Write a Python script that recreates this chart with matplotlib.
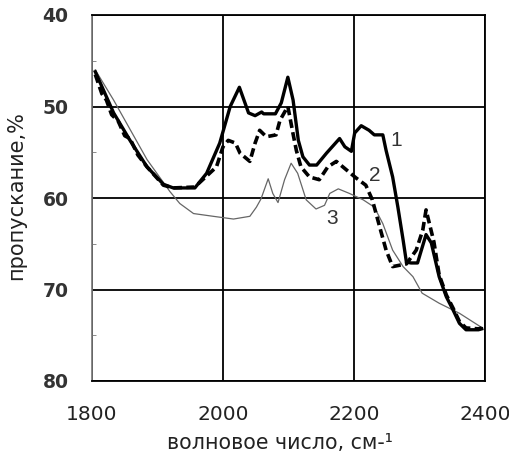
import matplotlib
matplotlib.use("Agg")
import matplotlib.pyplot as plt
from matplotlib.ticker import MultipleLocator

plt.rcParams['font.family'] = ['DejaVu Sans']

# Transmission spectra (wavenumber, cm^-1 -> transmission, %)
wn1 = [1805, 1833, 1858, 1884, 1909, 1924, 1957, 1975, 1995, 2011, 2025, 2039, 2049,
       2059, 2062, 2080, 2089, 2099, 2107, 2115, 2122, 2132, 2143, 2158, 2178, 2186,
       2196, 2201, 2211, 2223, 2231, 2244, 2249, 2259, 2267, 2275, 2280, 2287, 2297,
       2302, 2310, 2318, 2330, 2341, 2351, 2361, 2371, 2390, 2395]
t1 = [46.2, 50.7, 53.7, 56.6, 58.5, 58.9, 58.9, 57.3, 54.0, 50.0, 47.9, 50.7, 51.0,
      50.6, 50.8, 50.8, 49.6, 46.8, 49.3, 53.7, 55.5, 56.4, 56.4, 55.1, 53.5, 54.4,
      54.9, 52.9, 52.1, 52.6, 53.1, 53.1, 54.8, 57.7, 61.0, 64.6, 67.0, 67.1, 67.1,
      65.9, 64.0, 64.9, 68.6, 70.8, 72.2, 73.7, 74.4, 74.4, 74.3]

wn2 = [1805, 1815, 1822, 1830, 1840, 1850, 1858, 1870, 1884, 1909, 1924, 1957, 1975,
       1990, 2000, 2008, 2019, 2026, 2041, 2049, 2056, 2066, 2074, 2081, 2087, 2099,
       2107, 2112, 2119, 2132, 2147, 2160, 2173, 2188, 2203, 2218, 2228, 2239, 2249,
       2259, 2280, 2295, 2305, 2310, 2322, 2330, 2341, 2351, 2361, 2371, 2390, 2395]
t2 = [46.5, 48.6, 49.3, 50.9, 51.6, 53.2, 53.5, 55.3, 56.6, 58.6, 58.9, 58.8, 57.6,
      56.6, 54.4, 53.7, 54.0, 55.1, 56.0, 54.0, 52.6, 53.3, 53.2, 53.1, 51.5, 50.0,
      53.0, 54.8, 56.6, 57.7, 58.0, 56.6, 56.0, 56.9, 57.8, 58.6, 60.2, 63.1, 65.7,
      67.5, 67.2, 65.7, 63.5, 61.3, 64.8, 68.4, 70.6, 72.0, 73.5, 74.2, 74.3, 74.2]

wn3 = [1805, 1833, 1884, 1919, 1934, 1955, 1985, 2016, 2041, 2051, 2058, 2069, 2076,
       2084, 2094, 2104, 2114, 2127, 2142, 2155, 2163, 2176, 2193, 2214, 2231, 2244,
       2259, 2275, 2290, 2304, 2330, 2361, 2396]
t3 = [46.0, 49.3, 55.8, 59.3, 60.6, 61.7, 62.0, 62.3, 62.0, 61.0, 60.1, 57.9, 59.5,
      60.5, 58.0, 56.2, 57.3, 60.2, 61.2, 60.8, 59.5, 59.0, 59.5, 60.2, 61.0, 62.8,
      65.7, 67.5, 68.6, 70.4, 71.5, 72.6, 74.2]

curve_labels = ['1', '2', '3']
label_pos = [(2264, 53.7), (2232, 57.5), (2167, 62.2)]

x_ticks = [1800, 2000, 2200, 2400]
y_ticks = [40, 50, 60, 70, 80]

W, H = 510, 453
fig = plt.figure(figsize=(W / 100, H / 100), dpi=100)
ax = fig.add_axes([92 / W, 1 - 381 / H, 393 / W, 366 / H])

ax.plot(wn3, t3, color='#666666', lw=0.9, zorder=3)
ax.plot(wn2, t2, color='black', lw=2.6, linestyle=(0, (2.4, 1.2)), zorder=4)
ax.plot(wn1, t1, color='black', lw=2.4, zorder=5)

for lab, (xx, yy) in zip(curve_labels, label_pos):
    ax.text(xx, yy, lab, fontsize=15, ha='center', va='center', color='#333333',
            family='Liberation Sans')

ax.set_xlim(1800, 2400)
ax.set_ylim(80, 40)
ax.set_xticks(x_ticks)
ax.set_yticks(y_ticks)
ax.yaxis.set_minor_locator(MultipleLocator(5))
ax.grid(True, which='major', color='black', lw=1.3)
ax.tick_params(axis='x', which='both', length=0, pad=17, labelsize=14.5, labelcolor='#222222')
ax.tick_params(axis='y', which='major', length=0, pad=17, labelsize=13.5, labelcolor='#333333')
ax.tick_params(axis='y', which='minor', length=3, direction='in', color='#777777')
for lbl in ax.get_yticklabels():
    lbl.set_fontweight('bold')

for side in ['top', 'right', 'bottom']:
    ax.spines[side].set_color('black')
    ax.spines[side].set_linewidth(1.3)
ax.spines['left'].set_color('#777777')
ax.spines['left'].set_linewidth(1.2)

fig.text(280 / W, 1 - 443 / H, 'волновое число, см-¹', fontsize=14.8,
         ha='center', va='center', color='#222222')
fig.text(16 / W, 1 - 196 / H, 'пропускание,%', fontsize=15, rotation=90,
         ha='center', va='center', color='#222222')

fig.savefig('out.png', dpi=100)
